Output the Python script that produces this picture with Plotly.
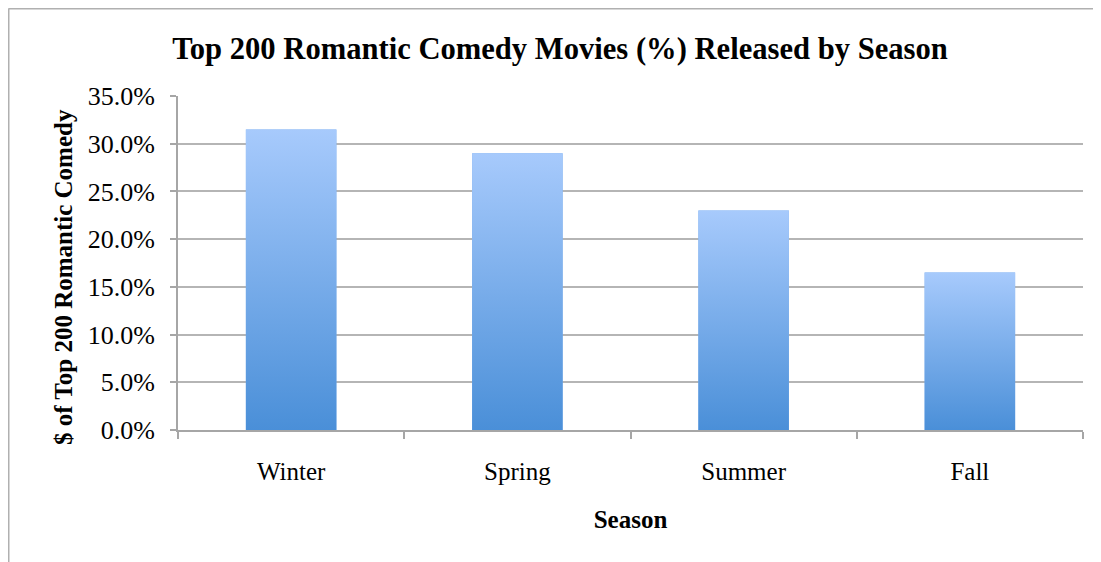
import plotly.graph_objects as go

seasons = ["Winter", "Spring", "Summer", "Fall"]
share_pct = [31.5, 29.0, 23.0, 16.5]
y_ticks = [0, 5, 10, 15, 20, 25, 30, 35]
y_tick_labels = [f"{v:.1f}%" for v in y_ticks]

BAR_W = 0.40
TOP_C = "#a7cafc"
BOT_C = "#4a8fd8"
FONT = "Liberation Serif"

# figure is placed at (8, 8) in the page (body margin)
W, H = 1093, 554
L, R, T, B = 170, 18, 88, 132
PW, PH = W - L - R, H - T - B

fig = go.Figure()
xs = list(range(len(seasons)))

fig.add_trace(go.Bar(x=xs, y=share_pct, width=BAR_W, marker=dict(color="#78aceb", line=dict(width=0)),
                     hoverinfo="skip", showlegend=False))

for i, v in zip(xs, share_pct):
    x0, x1 = i - BAR_W / 2, i + BAR_W / 2
    fig.add_trace(go.Scatter(
        x=[x0, x1, x1, x0, x0], y=[0, 0, v, v, 0], mode="lines", fill="toself",
        line=dict(width=0, color="rgba(0,0,0,0)"),
        fillgradient=dict(type="vertical", colorscale=[[0, BOT_C], [1, TOP_C]]),
        showlegend=False, hoverinfo="skip"))

fig.update_layout(
    width=W, height=H,
    margin=dict(l=L, r=R, t=T, b=B, pad=0),
    paper_bgcolor="white", plot_bgcolor="white",
    title=dict(text="<b>Top 200 Romantic Comedy Movies (%) Released by Season</b>",
               x=(560 - 8) / W, xanchor="center", y=1 - 40 / H, yanchor="middle",
               font=dict(family=FONT, size=30.6, color="black")),
    font=dict(family=FONT, color="black"),
    showlegend=False,
    xaxis=dict(range=[-0.5, len(seasons) - 0.5], tickmode="array", tickvals=xs, ticktext=seasons,
               ticks="", showgrid=False, zeroline=False,
               showline=True, linecolor="#a6a6a6", linewidth=2,
               tickfont=dict(family=FONT, size=25, color="black"),
               ticklabelstandoff=18,
               minor=dict(tickmode="array", tickvals=[k - 0.5 for k in range(len(seasons) + 1)],
                          ticks="outside", ticklen=7, tickwidth=2, tickcolor="#a6a6a6", showgrid=False),
               title=dict(text="<b>Season</b>", font=dict(family=FONT, size=25, color="black"), standoff=26),
               fixedrange=True),
    yaxis=dict(range=[0, 35], tickmode="array", tickvals=y_ticks, ticktext=y_tick_labels,
               ticks="outside", ticklen=6, tickwidth=2, tickcolor="#a6a6a6",
               showgrid=True, gridcolor="#b5b5b5", gridwidth=2, zeroline=False,
               showline=True, linecolor="#a6a6a6", linewidth=2,
               tickfont=dict(family=FONT, size=26, color="black"),
               ticklabelstandoff=10,
               fixedrange=True),
)

# y-axis title (placed as an annotation to match its offset position)
fig.add_annotation(text="<b>$ of Top 200 Romantic Comedy</b>", textangle=-90,
                   xref="paper", yref="paper",
                   x=(63 - 8 - L) / PW, y=(H - B - (277 - 8)) / PH,
                   xanchor="center", yanchor="middle", showarrow=False,
                   font=dict(family=FONT, size=25, color="black"))

# outer frame lines (top and left)
fx0 = (0.5 - L) / PW
fy0 = (H - B - 0.5) / PH
fig.add_shape(type="line", xref="paper", yref="paper",
              x0=fx0, x1=(W - L) / PW, y0=fy0, y1=fy0,
              line=dict(color="#b0b0b0", width=2))
fig.add_shape(type="line", xref="paper", yref="paper",
              x0=fx0, x1=fx0, y0=fy0, y1=-B / PH,
              line=dict(color="#b0b0b0", width=2))

fig.write_html("out.html")
